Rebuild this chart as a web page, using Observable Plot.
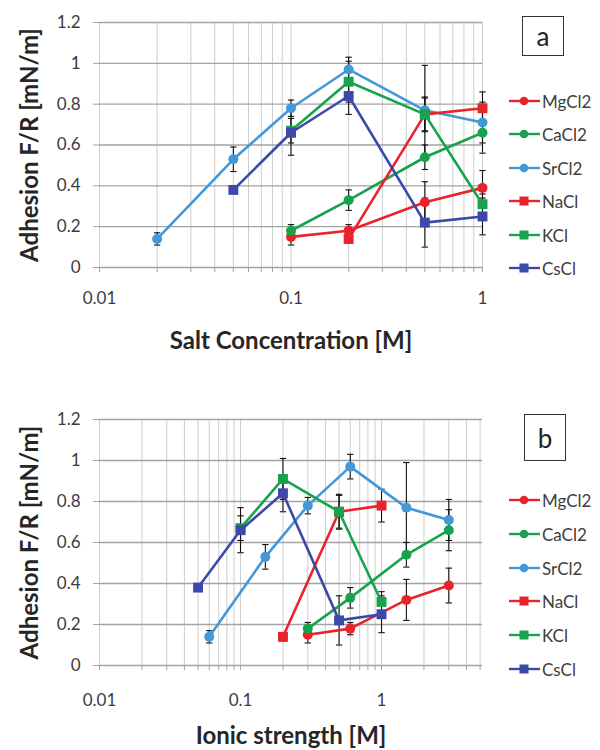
<!DOCTYPE html>
<html><head><meta charset="utf-8">
<script src="https://cdn.jsdelivr.net/npm/d3@7"></script>
<script src="https://cdn.jsdelivr.net/npm/@observablehq/plot@0.6"></script>
<style>
body{margin:0;background:#fff;font-family:Lato,"Open Sans",sans-serif;}
#wrap{position:relative;width:600px;height:750px;overflow:hidden;}
.panel{position:absolute;left:0;width:600px;}
.box{position:absolute;border:1.3px solid #333;box-sizing:border-box;display:flex;align-items:center;justify-content:center;font-size:26px;color:#222;font-family:Lato,sans-serif;}
.leg{position:absolute;left:508px;display:flex;align-items:center;font-size:17px;color:#404040;height:20px;white-space:nowrap;}
.leg svg{margin-right:1px;}
</style></head><body><div id="wrap"></div>
<script>
// ---- data ----
const seriesNames = ["MgCl2","CaCl2","SrCl2","NaCl","KCl","CsCl"];
const seriesColors = ["#e8232b","#17a24c","#4398d9","#e8232b","#17a24c","#3d49a8"];
const seriesSymbols = ["circle","circle","circle","square","square","square"];

// Panel a: salt concentration [M]
const concMgCl2 = [0.1, 0.2, 0.5, 1];
const concCaCl2 = [0.1, 0.2, 0.5, 1];
const concSrCl2 = [0.02, 0.05, 0.1, 0.2, 0.5, 1];
const concNaCl  = [0.2, 0.5, 1];
const concKCl   = [0.1, 0.2, 0.5, 1];
const concCsCl  = [0.05, 0.1, 0.2, 0.5, 1];

// Panel b: ionic strength [M]
const ionMgCl2 = [0.3, 0.6, 1.5, 3];
const ionCaCl2 = [0.3, 0.6, 1.5, 3];
const ionSrCl2 = [0.06, 0.15, 0.3, 0.6, 1.5, 3];
const ionNaCl  = [0.2, 0.5, 1];
const ionKCl   = [0.1, 0.2, 0.5, 1];
const ionCsCl  = [0.05, 0.1, 0.2, 0.5, 1];

// Adhesion F/R [mN/m]
const valMgCl2 = [0.15, 0.18, 0.32, 0.39];
const valCaCl2 = [0.18, 0.33, 0.54, 0.66];
const valSrCl2 = [0.14, 0.53, 0.78, 0.97, 0.77, 0.71];
const valNaCl  = [0.14, 0.75, 0.78];
const valKCl   = [0.67, 0.91, 0.75, 0.31];
const valCsCl  = [0.38, 0.66, 0.84, 0.22, 0.25];

// error (+/-)
const errMgCl2 = [0.04, 0.03, 0.10, 0.085];
const errCaCl2 = [0.03, 0.05, 0.06, 0.10];
const errSrCl2 = [0.03, 0.06, 0.04, 0.06, 0.22, 0.10];
const errNaCl  = [0.02, 0.08, 0.08];
const errKCl   = [0.06, 0.10, 0.085, 0.05];
const errCsCl  = [0.00, 0.11, 0.09, 0.12, 0.09];

const yTicks = [0, 0.2, 0.4, 0.6, 0.8, 1, 1.2];
const yTickLabels = ["0","0.2","0.4","0.6","0.8","1","1.2"];
const xDecades = [0.01, 0.1, 1];
const xDecadeLabels = ["0.01","0.1","1"];

// ---- build ----
const valAll = [valMgCl2, valCaCl2, valSrCl2, valNaCl, valKCl, valCsCl];
const errAll = [errMgCl2, errCaCl2, errSrCl2, errNaCl, errKCl, errCsCl];
const concAll = [concMgCl2, concCaCl2, concSrCl2, concNaCl, concKCl, concCsCl];
const ionAll = [ionMgCl2, ionCaCl2, ionSrCl2, ionNaCl, ionKCl, ionCsCl];

function rowsFor(xs) {
  return seriesNames.map((s, i) => xs[i].map((x, j) => ({series: s, x, y: valAll[i][j], err: errAll[i][j]})));
}
function minorTicks(maxX) {
  const t = [];
  for (const d of [0.01, 0.1, 1]) for (let k = 1; k <= 9; k++) { const v = +(d * k).toPrecision(3); if (v <= maxX + 1e-9) t.push(v); }
  return t;
}
const capSymbol = {draw(ctx, size) { const w = Math.sqrt(size) / 2; ctx.moveTo(-w, 0); ctx.lineTo(w, 0); }};

function panel(xs, maxX, xLabel, top, height, mt, mb, tickPad, titleDy) {
  const groups = rowsFor(xs);
  const allRows = groups.flat();
  const grid = minorTicks(maxX);
  const errRows = allRows.filter(d => d.err > 0);
  const marks = [
    Plot.ruleX(grid, {stroke: "#cdcdcd", strokeWidth: 1}),
    Plot.ruleY(yTicks, {stroke: "#a3a3a3", strokeWidth: 1.3}),
    Plot.axisY({ticks: yTicks, tickFormat: d => yTickLabels[yTicks.indexOf(d)], tickSize: 6, tickPadding: 13, stroke: "#a3a3a3", fill: "#3c3c3c", fontSize: 17, label: null}),
    Plot.axisX({ticks: grid, tickFormat: d => { const i = xDecades.indexOf(d); return i >= 0 ? xDecadeLabels[i] : ""; }, tickSize: 5, tickPadding: tickPad, stroke: "#a3a3a3", fill: "#3c3c3c", fontSize: 17, label: null}),
    Plot.ruleX(errRows, {x: "x", y1: d => d.y - d.err, y2: d => d.y + d.err, stroke: "#111", strokeWidth: 1.1}),
    Plot.dot(errRows, {x: "x", y: d => d.y + d.err, symbol: capSymbol, r: 3.6, stroke: "#111", strokeWidth: 1.1, fill: "none"}),
    Plot.dot(errRows, {x: "x", y: d => d.y - d.err, symbol: capSymbol, r: 3.6, stroke: "#111", strokeWidth: 1.1, fill: "none"})
  ];
  groups.forEach((g, i) => {
    marks.push(Plot.line(g, {x: "x", y: "y", stroke: seriesColors[i], strokeWidth: 2.6}));
    marks.push(Plot.dot(g, {x: "x", y: "y", fill: seriesColors[i], stroke: "none", symbol: seriesSymbols[i], r: seriesSymbols[i] === "square" ? 5.6 : 5}));
  });
  marks.push(Plot.text([xLabel], {frameAnchor: "bottom", textAnchor: "middle", lineAnchor: "middle", dy: titleDy, fontSize: 24, fontWeight: "bold", fill: "#262626"}));
  marks.push(Plot.text(["Adhesion F/R [mN/m]"], {frameAnchor: "left", textAnchor: "middle", lineAnchor: "middle", dx: -69, rotate: -90, fontSize: 24, fontWeight: "bold", fill: "#262626"}));
  const svg = Plot.plot({
    width: 600, height, marginLeft: 99, marginRight: 118, marginTop: mt, marginBottom: mb,
    style: {fontFamily: "Lato", background: "white", overflow: "visible"},
    x: {type: "log", domain: [0.01, maxX], axis: null},
    y: {domain: [0, 1.2], axis: null},
    marks
  });
  svg.classList.add("panel");
  svg.style.top = top + "px";
  return svg;
}

const wrap = document.getElementById("wrap");
wrap.appendChild(panel(concAll, 1, "Salt Concentration [M]", 0, 375, 22, 108, 19, 74));
wrap.appendChild(panel(ionAll, 5.2, "Ionic strength [M]", 375, 375, 44, 85, 23, 71));

function legend(boxLetter, box, ys) {
  const b = document.createElement("div");
  b.className = "box";
  Object.assign(b.style, {left: box[0] + "px", top: box[1] + "px", width: box[2] + "px", height: box[3] + "px"});
  b.textContent = boxLetter;
  wrap.appendChild(b);
  seriesNames.forEach((s, i) => {
    const e = document.createElement("div");
    e.className = "leg";
    e.style.top = (ys[i] - 10) + "px";
    const c = seriesColors[i];
    const m = seriesSymbols[i] === "circle"
      ? `<circle cx="16" cy="10" r="4.3" fill="${c}"/>`
      : `<rect x="11.5" y="5.5" width="9" height="9" fill="${c}"/>`;
    e.innerHTML = `<svg width="33" height="20"><line x1="1" x2="32" y1="10" y2="10" stroke="${c}" stroke-width="2.4"/>${m}</svg><span>${s}</span>`;
    wrap.appendChild(e);
  });
}
legend("a", [522, 16, 42, 40], [101, 134, 168, 201, 235, 268]);
legend("b", [524, 414, 42, 47], [500, 534, 568, 601, 635, 669]);
</script></body></html>
